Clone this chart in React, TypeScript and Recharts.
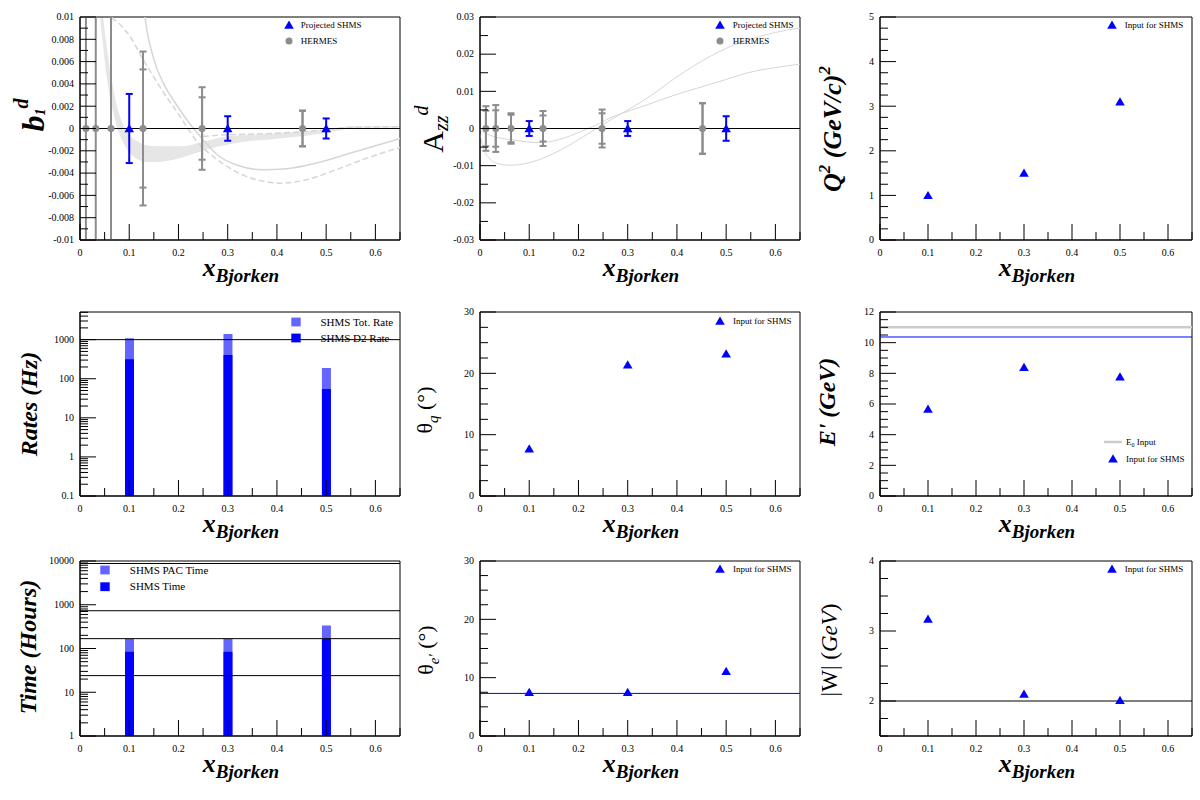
import React from 'react';
import {
  ComposedChart,
  Scatter,
  Line,
  Area,
  Bar,
  XAxis,
  YAxis,
  ErrorBar,
  ReferenceLine,
  ReferenceArea,
  Legend,
} from 'recharts';

const SERIF = '"Liberation Serif", "Times New Roman", serif';
const BLUE = '#0000ff';
const PALE_BLUE = '#6464ff';
const GREY = '#8c8c8c';
const MODEL = '#d6d6d6';
const BAND = '#e6e6e6';

// x axis shared by the nine pads
const xMajor = [0, 0.1, 0.2, 0.3, 0.4, 0.5, 0.6];
const xMinor = [0.05, 0.15, 0.25, 0.35, 0.45, 0.55, 0.65];
const xTicks = [...xMajor, ...xMinor].sort((a, b) => a - b);

// SHMS kinematic settings
const shmsX = [0.1, 0.3, 0.5];
const q2 = [1.0, 1.5, 3.1];
const thetaQ = [7.7, 21.4, 23.2];
const ePrime = [5.67, 8.39, 7.78];
const thetaE = [7.5, 7.5, 11.1];
const wMass = [3.17, 2.1, 2.01];
const beamEnergy = 11.0;
const ePrimeMax = 10.37;
const thetaEMin = 7.3;
const wCut = 2;

// rates (Hz) and times (hours)
const totRate = [1084, 1397, 188];
const d2Rate = [315, 405, 55];
const rateLimit = 1000;
const pacTime = [168, 168, 336];
const shmsTime = [84, 84, 168];
const timeLines = [24, 168, 730, 8760];

// projected asymmetries
const b1Proj = [0, 0, 0];
const b1ProjErr = [0.0031, 0.0011, 0.0009];
const azzProj = [0, 0, 0];
const azzProjErr = [0.002, 0.002, 0.0033];

// HERMES (the first three b1 bars run off the frame, drawn to its edges)
const hermesX = [0.012, 0.032, 0.063, 0.128, 0.248, 0.452];
const b1Hermes = [0, 0, 0, 0, 0, 0];
const b1HermesTot = [0.01, 0.01, 0.01, 0.0069, 0.0037, 0.0016];
const b1HermesStat = [0.01, 0.01, 0.01, 0.0053, 0.0028, 0.0016];
const b1HermesOffScale = [true, true, true, false, false, false];
const azzHermes = [0, 0, 0, 0, 0, 0];
const azzHermesTot = [0.006, 0.0063, 0.0041, 0.0047, 0.0051, 0.0068];
const azzHermesStat = [0.0048, 0.0049, 0.0037, 0.0035, 0.0041, 0.0068];

// b1 model curves
const b1SolidX = [0.125, 0.132, 0.15, 0.17, 0.195, 0.22, 0.25, 0.28, 0.32, 0.37, 0.42, 0.48, 0.55, 0.65];
const b1SolidY = [0.013, 0.01, 0.0062, 0.004, 0.0022, 0.0006, -0.001, -0.0024, -0.0033, -0.0037, -0.0036, -0.0031, -0.0022, -0.0009];
const b1DashX = [0.055, 0.061, 0.08, 0.101, 0.128, 0.15, 0.176, 0.2, 0.216, 0.24, 0.27, 0.31, 0.338, 0.37, 0.41, 0.46, 0.514, 0.58, 0.65];
const b1DashY = [0.0115, 0.0102, 0.0094, 0.0083, 0.0062, 0.0046, 0.0028, 0.0013, 0.0002, -0.0013, -0.0025, -0.0037, -0.0043, -0.0047, -0.0049, -0.0046, -0.0038, -0.0027, -0.0017];
const b1FlatX = [0.25, 0.284, 0.385, 0.45, 0.5, 0.55, 0.65];
const b1FlatY = [-0.0007, -0.0006, -0.00045, -0.0003, -0.0001, 0.0001, 0.00016];
const b1BandX = [0.036, 0.041, 0.047, 0.051, 0.056, 0.061, 0.068, 0.074, 0.085, 0.1, 0.115, 0.135, 0.16, 0.2, 0.25, 0.284, 0.33, 0.38, 0.45, 0.5, 0.55, 0.6, 0.65];
const b1BandLow = [0.016, 0.0102, 0.0075, 0.0057, 0.0041, 0.0027, 0.0014, 0.0003, -0.001, -0.0021, -0.0027, -0.003, -0.003, -0.0027, -0.002, -0.0016, -0.0012, -0.001, -0.0007, -0.0004, 0, 0.0001, 0.0001];
const b1BandHigh = [0.022, 0.016, 0.0102, 0.0085, 0.0068, 0.0052, 0.0035, 0.0022, 0.0006, -0.0006, -0.0011, -0.0015, -0.0016, -0.0016, -0.0012, -0.0008, -0.0006, -0.0005, -0.0003, -0.0001, 0.0002, 0.0002, 0.0002];

// Azz model curves
const azzAX = [0, 0.007, 0.02, 0.035, 0.06, 0.09, 0.12, 0.15, 0.18, 0.21, 0.24, 0.27, 0.3, 0.34, 0.4, 0.47, 0.53, 0.58, 0.62, 0.65];
const azzAY = [-0.0015, -0.0053, -0.0082, -0.0094, -0.0099, -0.0095, -0.0084, -0.0067, -0.0046, -0.0022, 0.0003, 0.0027, 0.005, 0.0082, 0.0139, 0.0196, 0.0232, 0.0252, 0.0264, 0.027];
const azzBX = [0, 0.02, 0.068, 0.12, 0.16, 0.203, 0.24, 0.27, 0.3, 0.338, 0.4, 0.44, 0.5, 0.541, 0.6, 0.65];
const azzBY = [-0.0004, -0.0018, -0.0031, -0.0038, -0.003, -0.0009, 0.0012, 0.0032, 0.0046, 0.0063, 0.0092, 0.0108, 0.0132, 0.0149, 0.0164, 0.0173];

// y axis major ticks
const b1Major = [-0.01, -0.008, -0.006, -0.004, -0.002, 0, 0.002, 0.004, 0.006, 0.008, 0.01];
const azzMajor = [-0.03, -0.02, -0.01, 0, 0.01, 0.02, 0.03];
const q2Major = [0, 1, 2, 3, 4, 5];
const angleMajor = [0, 10, 20, 30];
const eMajor = [0, 2, 4, 6, 8, 10, 12];
const wMajor = [2, 3, 4];
const rateMajor = [0.1, 1, 10, 100, 1000];
const timeMajor = [1, 10, 100, 1000, 10000];

const close = (a: number, b: number) => Math.abs(a - b) <= 1e-9 * Math.max(1, Math.abs(a));

function minorBetween(major: number[], n: number) {
  const out: number[] = [];
  for (let i = 0; i < major.length - 1; i++) {
    for (let k = 1; k <= n; k++) out.push(major[i] + ((major[i + 1] - major[i]) * k) / (n + 1));
  }
  return out;
}

function logMinor(lo: number, hi: number) {
  const out: number[] = [];
  for (let d = lo; d < hi; d *= 10) {
    for (let k = 2; k <= 9; k++) if (k * d <= hi) out.push(k * d);
  }
  return out;
}

const pts = (xs: number[], ys: number[]) => xs.map((x, i) => ({ x, y: ys[i] }));

const triPoints = (cx: number, cy: number) =>
  `${cx},${cy - 4.5} ${cx - 4.8},${cy + 3.7} ${cx + 4.8},${cy + 3.7}`;
const triShape = (p: any) => <polygon points={triPoints(p.cx, p.cy)} fill={BLUE} />;
const dotShape = (p: any) => <circle cx={p.cx} cy={p.cy} r={3.5} fill={GREY} />;

const tickFont = { fontFamily: SERIF, fontSize: 10 };

function XTick(props: any) {
  const { x, y, payload } = props;
  const major = xMajor.some((m) => close(m, payload.value));
  return (
    <g>
      <line x1={x} x2={x} y1={y} y2={y - (major ? 16 : 8)} stroke="#000" />
      {major && (
        <text x={x} y={y + 16} textAnchor="middle" style={tickFont} fill="#000">
          {String(payload.value)}
        </text>
      )}
    </g>
  );
}

function YTick(props: any) {
  const { x, y, payload, major } = props;
  const isMajor = major.some((m: number) => close(m, payload.value));
  return (
    <g>
      <line x1={x} x2={x + (isMajor ? 16 : 8)} y1={y} y2={y} stroke="#000" />
      {isMajor && (
        <text x={x - 6} y={y} dy="0.33em" textAnchor="end" style={tickFont} fill="#000">
          {String(payload.value)}
        </text>
      )}
    </g>
  );
}

function XTitle({ ax, ay }: { ax: number; ay: number }) {
  return (
    <text x={ax} y={ay} textAnchor="middle" style={{ fontFamily: SERIF }} fontWeight="bold" fontStyle="italic" fill="#000">
      <tspan fontSize={26}>x</tspan>
      <tspan fontSize={19} dy={6}>Bjorken</tspan>
    </text>
  );
}

function YTitle({ ax, ay, body, bold = true, italic = true, size = 24 }: any) {
  return (
    <text
      x={ax}
      y={ay}
      transform={`rotate(-90 ${ax} ${ay})`}
      textAnchor="middle"
      style={{ fontFamily: SERIF }}
      fontSize={size}
      fontWeight={bold ? 'bold' : 'normal'}
      fontStyle={italic ? 'italic' : 'normal'}
      fill="#000"
    >
      {body}
    </text>
  );
}

type Entry = { mark: 'tri' | 'dot' | 'box' | 'line'; color: string; label: React.ReactNode };

function LegendBox({ entries, gap, textDx, size }: { entries: Entry[]; gap: number; textDx: number; size: number }) {
  const w = textDx + 120;
  const h = gap * entries.length + 8;
  return (
    <svg width={w} height={h} style={{ display: 'block', overflow: 'visible' }}>
      {entries.map((e, i) => {
        const cx = 10;
        const cy = 8 + i * gap;
        let mark: React.ReactNode = null;
        if (e.mark === 'tri') mark = <polygon points={triPoints(cx, cy)} fill={e.color} />;
        if (e.mark === 'dot') mark = <circle cx={cx} cy={cy} r={3.5} fill={e.color} />;
        if (e.mark === 'box') mark = <rect x={cx - 4.7} y={cy - 4.4} width={9.4} height={8.8} fill={e.color} />;
        if (e.mark === 'line') mark = <line x1={cx - 9} x2={cx + 9} y1={cy} y2={cy} stroke={e.color} strokeWidth={2.5} />;
        return (
          <g key={i}>
            {mark}
            <text x={cx + textDx} y={cy} dy="0.33em" style={{ fontFamily: SERIF, fontSize: size }} fill="#000">
              {e.label}
            </text>
          </g>
        );
      })}
    </svg>
  );
}

function legendAt(x: number, y: number, textX: number, gap: number, size: number, entries: Entry[]) {
  return (
    <Legend
      layout="vertical"
      align="center"
      verticalAlign="middle"
      wrapperStyle={{ left: x - 10, top: y - 8, width: 'auto', height: 'auto', lineHeight: 0 }}
      content={() => <LegendBox entries={entries} gap={gap} textDx={textX - x} size={size} />}
    />
  );
}

type PadProps = {
  left: number;
  top: number;
  w: number;
  h: number;
  yDomain: [number, number];
  yMajor: number[];
  yMinor: number[];
  log?: boolean;
  yTitle: React.ReactElement;
  data?: any[];
  twin?: boolean;
  children?: React.ReactNode;
};

function Pad({ left, top, w, h, yDomain, yMajor, yMinor, log, yTitle, data, twin, children }: PadProps) {
  const yTicks = [...yMajor, ...yMinor].sort((a, b) => a - b);
  return (
    <div style={{ position: 'absolute', left, top }}>
      <ComposedChart width={w + 82} height={h + 67} data={data} margin={{ top: 17, right: 2, bottom: 0, left: 0 }}>
        <XAxis
          dataKey="x"
          type="number"
          domain={[0, 0.65]}
          ticks={xTicks}
          interval={0}
          allowDataOverflow
          height={50}
          tickSize={0}
          tickMargin={0}
          stroke="#000"
          tick={(p: any) => <XTick {...p} />}
          label={<XTitle ax={81 + w / 2} ay={53 + h} />}
        />
        {twin && (
          <XAxis xAxisId="twin" dataKey="x" type="number" domain={[0, 0.65]} ticks={xTicks} allowDataOverflow hide />
        )}
        <YAxis
          type="number"
          scale={log ? 'log' : 'auto'}
          domain={yDomain}
          ticks={yTicks}
          interval={0}
          allowDataOverflow
          width={80}
          tickSize={0}
          tickMargin={0}
          stroke="#000"
          tick={(p: any) => <YTick {...p} major={yMajor} />}
          label={yTitle}
        />
        {children}
        <ReferenceArea x1={0} x2={0.65} y1={yDomain[0]} y2={yDomain[1]} fill="none" stroke="#000" ifOverflow="visible" />
      </ComposedChart>
    </div>
  );
}

const shmsInput: Entry[] = [{ mark: 'tri', color: BLUE, label: 'Input for SHMS' }];
const asymLegend: Entry[] = [
  { mark: 'tri', color: BLUE, label: 'Projected SHMS' },
  { mark: 'dot', color: GREY, label: 'HERMES' },
];

export default function App() {
  const b1ProjData = shmsX.map((x, i) => ({ x, y: b1Proj[i], err: b1ProjErr[i] }));
  const b1HermesAll = hermesX.map((x, i) => ({ x, y: b1Hermes[i], tot: b1HermesTot[i], stat: b1HermesStat[i] }));
  const b1HermesOpen = b1HermesAll.filter((_, i) => b1HermesOffScale[i]);
  const b1HermesData = b1HermesAll.filter((_, i) => !b1HermesOffScale[i]);
  const b1BandData = b1BandX.map((x, i) => ({ x, range: [b1BandLow[i], b1BandHigh[i]] }));
  const azzProjData = shmsX.map((x, i) => ({ x, y: azzProj[i], err: azzProjErr[i] }));
  const azzHermesData = hermesX.map((x, i) => ({ x, y: azzHermes[i], tot: azzHermesTot[i], stat: azzHermesStat[i] }));
  const rateData = shmsX.map((x, i) => ({ x, tot: totRate[i], d2: d2Rate[i] }));
  const timeData = shmsX.map((x, i) => ({ x, pac: pacTime[i], shms: shmsTime[i] }));

  return (
    <div style={{ position: 'absolute', left: 0, top: 0, width: 1200, height: 800, background: '#fff', overflow: 'hidden' }}>
      {/* b1 */}
      <Pad
        left={0}
        top={0}
        w={320}
        h={223}
        yDomain={[-0.01, 0.01]}
        yMajor={b1Major}
        yMinor={minorBetween(b1Major, 1)}
        yTitle={
          <YTitle
            ax={44}
            ay={115}
            body={
              <>
                <tspan fontSize={32}>b</tspan>
                <tspan fontSize={14} dy={1}>1</tspan>
                <tspan fontSize={20} dy={-17}>d</tspan>
              </>
            }
          />
        }
      >
        <Area data={b1BandData} dataKey="range" type="monotone" stroke="none" fill={BAND} fillOpacity={1} isAnimationActive={false} />
        <Line data={pts(b1SolidX, b1SolidY)} dataKey="y" type="monotone" stroke={MODEL} strokeWidth={1.5} dot={false} isAnimationActive={false} />
        <Line data={pts(b1DashX, b1DashY)} dataKey="y" type="monotone" stroke={MODEL} strokeWidth={1.5} strokeDasharray="6 3" dot={false} isAnimationActive={false} />
        <Line data={pts(b1FlatX, b1FlatY)} dataKey="y" type="monotone" stroke={MODEL} strokeWidth={1.5} strokeDasharray="6 3" dot={false} isAnimationActive={false} />
        <ReferenceLine y={0} stroke="#000" />
        <Scatter data={b1HermesOpen} dataKey="y" shape={dotShape} fill={GREY} isAnimationActive={false}>
          <ErrorBar dataKey="tot" direction="y" width={0} stroke={GREY} strokeWidth={2} />
        </Scatter>
        <Scatter data={b1HermesData} dataKey="y" shape={dotShape} fill={GREY} isAnimationActive={false}>
          <ErrorBar dataKey="tot" direction="y" width={3.5} stroke={GREY} strokeWidth={2} />
          <ErrorBar dataKey="stat" direction="y" width={3.5} stroke={GREY} strokeWidth={2} />
        </Scatter>
        <Scatter data={b1ProjData} dataKey="y" shape={triShape} fill={BLUE} isAnimationActive={false}>
          <ErrorBar dataKey="err" direction="y" width={3.5} stroke={BLUE} strokeWidth={2} />
        </Scatter>
        {legendAt(289.3, 25, 301, 16, 9, asymLegend)}
      </Pad>

      {/* Azz */}
      <Pad
        left={400}
        top={0}
        w={320}
        h={223}
        yDomain={[-0.03, 0.03]}
        yMajor={azzMajor}
        yMinor={minorBetween(azzMajor, 1)}
        yTitle={
          <YTitle
            ax={43}
            ay={129}
            bold={false}
            italic={false}
            body={
              <>
                <tspan fontSize={30}>A</tspan>
                <tspan fontSize={20} fontStyle="italic" dy={5}>zz</tspan>
                <tspan fontSize={20} fontStyle="italic" dy={-20}>d</tspan>
              </>
            }
          />
        }
      >
        <Line data={pts(azzAX, azzAY)} dataKey="y" type="monotone" stroke={MODEL} strokeWidth={1} dot={false} isAnimationActive={false} />
        <Line data={pts(azzBX, azzBY)} dataKey="y" type="monotone" stroke={MODEL} strokeWidth={1} dot={false} isAnimationActive={false} />
        <ReferenceLine y={0} stroke="#000" />
        <Scatter data={azzHermesData} dataKey="y" shape={dotShape} fill={GREY} isAnimationActive={false}>
          <ErrorBar dataKey="tot" direction="y" width={3.5} stroke={GREY} strokeWidth={2} />
          <ErrorBar dataKey="stat" direction="y" width={3.5} stroke={GREY} strokeWidth={2} />
        </Scatter>
        <Scatter data={azzProjData} dataKey="y" shape={triShape} fill={BLUE} isAnimationActive={false}>
          <ErrorBar dataKey="err" direction="y" width={3.5} stroke={BLUE} strokeWidth={2} />
        </Scatter>
        {legendAt(320, 25, 332.7, 16, 9, asymLegend)}
      </Pad>

      {/* Q2 */}
      <Pad
        left={800}
        top={0}
        w={312}
        h={223}
        yDomain={[0, 5]}
        yMajor={q2Major}
        yMinor={minorBetween(q2Major, 3)}
        yTitle={
          <YTitle
            ax={41}
            ay={129}
            size={26}
            body={
              <>
                Q<tspan fontSize={17} dy={-11}>2</tspan>
                <tspan dy={11}> (GeV/c)</tspan>
                <tspan fontSize={17} dy={-11}>2</tspan>
              </>
            }
          />
        }
      >
        <Scatter data={pts(shmsX, q2)} dataKey="y" shape={triShape} fill={BLUE} isAnimationActive={false} />
        {legendAt(312.3, 25, 325, 16, 9, shmsInput)}
      </Pad>

      {/* Rates */}
      <Pad
        left={0}
        top={295}
        w={320}
        h={184}
        log
        twin
        data={rateData}
        yDomain={[0.1, 5100]}
        yMajor={rateMajor}
        yMinor={logMinor(0.1, 5100)}
        yTitle={<YTitle ax={37} ay={109} body="Rates (Hz)" />}
      >
        <Bar dataKey="tot" barSize={9} fill={PALE_BLUE} isAnimationActive={false} />
        <Bar dataKey="d2" xAxisId="twin" barSize={9} fill={BLUE} isAnimationActive={false} />
        <ReferenceLine y={rateLimit} stroke="#000" />
        {legendAt(296.3, 26.7, 320.7, 16, 11, [
          { mark: 'box', color: PALE_BLUE, label: 'SHMS Tot. Rate' },
          { mark: 'box', color: BLUE, label: 'SHMS D2 Rate' },
        ])}
      </Pad>

      {/* theta_q */}
      <Pad
        left={400}
        top={295}
        w={320}
        h={184}
        yDomain={[0, 30]}
        yMajor={angleMajor}
        yMinor={minorBetween(angleMajor, 3)}
        yTitle={
          <YTitle
            ax={32}
            ay={115}
            size={22}
            bold={false}
            italic={false}
            body={
              <>
                θ<tspan fontSize={15} fontStyle="italic" dy={6}>q</tspan>
                <tspan dy={-6}> (°)</tspan>
              </>
            }
          />
        }
      >
        <Scatter data={pts(shmsX, thetaQ)} dataKey="y" shape={triShape} fill={BLUE} isAnimationActive={false} />
        {legendAt(320, 25.7, 333, 16, 9, shmsInput)}
      </Pad>

      {/* E' */}
      <Pad
        left={800}
        top={295}
        w={312}
        h={184}
        yDomain={[0, 12]}
        yMajor={eMajor}
        yMinor={minorBetween(eMajor, 3)}
        yTitle={<YTitle ax={35} ay={107} body="E' (GeV)" />}
      >
        <ReferenceLine y={beamEnergy} stroke="#cccccc" strokeWidth={2.5} />
        <ReferenceLine y={ePrimeMax} stroke={BLUE} />
        <Scatter data={pts(shmsX, ePrime)} dataKey="y" shape={triShape} fill={BLUE} isAnimationActive={false} />
        {legendAt(313, 147.3, 326, 16.7, 9, [
          {
            mark: 'line',
            color: '#cccccc',
            label: (
              <>
                E<tspan fontSize={6} dy={2}>0</tspan>
                <tspan dy={-2}> Input</tspan>
              </>
            ),
          },
          { mark: 'tri', color: BLUE, label: 'Input for SHMS' },
        ])}
      </Pad>

      {/* Time */}
      <Pad
        left={0}
        top={544}
        w={320}
        h={175}
        log
        twin
        data={timeData}
        yDomain={[1, 10000]}
        yMajor={timeMajor}
        yMinor={logMinor(1, 10000)}
        yTitle={<YTitle ax={36} ay={103} body="Time (Hours)" />}
      >
        <Bar dataKey="pac" barSize={9} fill={PALE_BLUE} isAnimationActive={false} />
        <Bar dataKey="shms" xAxisId="twin" barSize={9} fill={BLUE} isAnimationActive={false} />
        {timeLines.map((t) => (
          <ReferenceLine key={t} y={t} stroke="#000" />
        ))}
        {legendAt(104.5, 26, 129.3, 16.7, 11, [
          { mark: 'box', color: PALE_BLUE, label: 'SHMS PAC Time' },
          { mark: 'box', color: BLUE, label: 'SHMS Time' },
        ])}
      </Pad>

      {/* theta_e' */}
      <Pad
        left={400}
        top={544}
        w={320}
        h={175}
        yDomain={[0, 30]}
        yMajor={angleMajor}
        yMinor={minorBetween(angleMajor, 3)}
        yTitle={
          <YTitle
            ax={33}
            ay={106}
            size={22}
            bold={false}
            italic={false}
            body={
              <>
                θ<tspan fontSize={15} fontStyle="italic" dy={6}>e'</tspan>
                <tspan dy={-6}> (°)</tspan>
              </>
            }
          />
        }
      >
        <ReferenceLine y={thetaEMin} stroke={BLUE} />
        <Scatter data={pts(shmsX, thetaE)} dataKey="y" shape={triShape} fill={BLUE} isAnimationActive={false} />
        {legendAt(320, 25.3, 333, 16, 9, shmsInput)}
      </Pad>

      {/* |W| */}
      <Pad
        left={800}
        top={544}
        w={312}
        h={175}
        yDomain={[1.5, 4]}
        yMajor={wMajor}
        yMinor={[1.5, 1.75, ...minorBetween(wMajor, 3)]}
        yTitle={
          <YTitle
            ax={37}
            ay={106}
            size={23}
            bold={false}
            italic={false}
            body={
              <>
                |W| (<tspan fontStyle="italic">GeV</tspan>)
              </>
            }
          />
        }
      >
        <ReferenceLine y={wCut} stroke="#000" />
        <Scatter data={pts(shmsX, wMass)} dataKey="y" shape={triShape} fill={BLUE} isAnimationActive={false} />
        {legendAt(312.3, 25.3, 325, 16, 9, shmsInput)}
      </Pad>
    </div>
  );
}
